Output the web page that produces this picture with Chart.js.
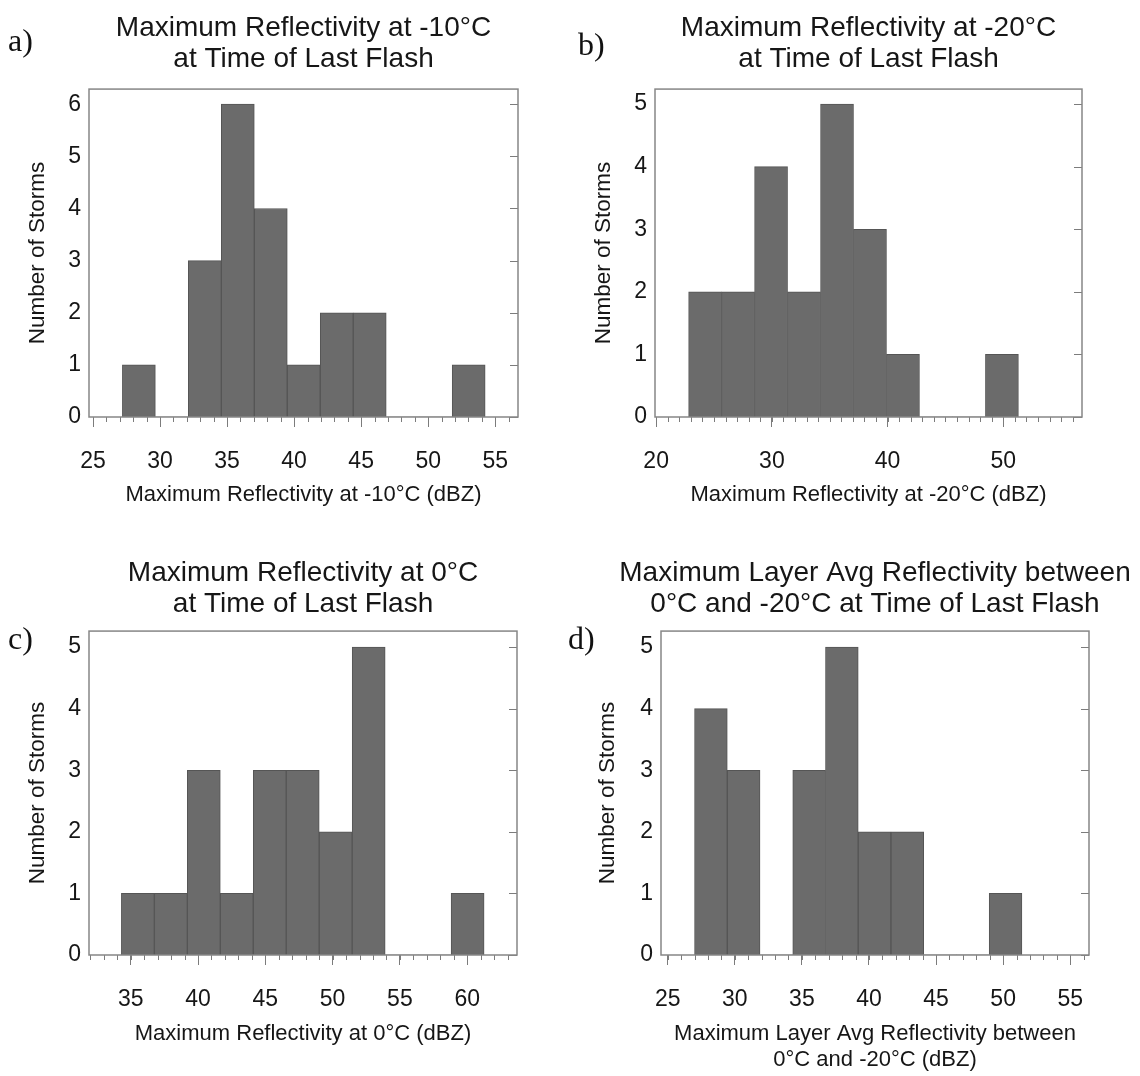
<!DOCTYPE html>
<html>
<head>
<meta charset="utf-8">
<script src="https://cdn.jsdelivr.net/npm/chart.js@4.4.1/dist/chart.umd.min.js"></script>
<style>
    body { margin: 0; background: #fff; width: 1140px; height: 1076px; position: relative; overflow: hidden; }
    .panel { position: absolute; height: 538px; }
    .tag { position: absolute; font-family: 'Liberation Serif', 'Times New Roman', serif; font-size: 32px; line-height: 32px; color: #111; }
</style>
</head>
<body>
<!-- canvases are sized so that their centre falls on the plot box centre (titles are centred on the canvas) -->
<div class="panel" style="left:0;top:0"><canvas id="chartA" width="607" height="538"></canvas></div>
<div class="panel" style="left:570px;top:0"><canvas id="chartB" width="597" height="538"></canvas></div>
<div class="panel" style="left:0;top:538px"><canvas id="chartC" width="606" height="538"></canvas></div>
<div class="panel" style="left:570px;top:538px"><canvas id="chartD" width="610" height="538"></canvas></div>
<div class="tag" style="left:8px;top:24px">a)</div>
<div class="tag" style="left:578px;top:28px">b)</div>
<div class="tag" style="left:8px;top:622px">c)</div>
<div class="tag" style="left:568px;top:622px">d)</div>
<script>
    // a) max reflectivity at -10°C : bin centres (dBZ) and storm counts
    const binsA = [28.42, 30.88, 33.34, 35.80, 38.26, 40.72, 43.18, 45.64, 48.10, 50.56, 53.02];
    const countsA = [1, 0, 3, 6, 4, 1, 2, 2, 0, 0, 1];
    const xTicksA = [25, 30, 35, 40, 45, 50, 55];
    const yTicksA = [0, 1, 2, 3, 4, 5, 6];

    // b) max reflectivity at -20°C
    const binsB = [24.23, 27.08, 29.93, 32.78, 35.63, 38.48, 41.33, 44.18, 47.03, 49.88];
    const countsB = [2, 2, 4, 2, 5, 3, 1, 0, 0, 1];
    const xTicksB = [20, 30, 40, 50];
    const yTicksB = [0, 1, 2, 3, 4, 5];

    // c) max reflectivity at 0°C
    const binsC = [35.53, 37.98, 40.43, 42.88, 45.33, 47.78, 50.23, 52.68, 55.13, 57.58, 60.03];
    const countsC = [1, 1, 3, 1, 3, 3, 2, 5, 0, 0, 1];
    const xTicksC = [35, 40, 45, 50, 55, 60];
    const yTicksC = [0, 1, 2, 3, 4, 5];

    // d) max layer avg reflectivity between 0°C and -20°C
    const binsD = [28.22, 30.66, 33.10, 35.54, 37.98, 40.42, 42.86, 45.30, 47.74, 50.18];
    const countsD = [4, 3, 0, 3, 5, 2, 2, 0, 0, 1];
    const xTicksD = [25, 30, 35, 40, 45, 50, 55];
    const yTicksD = [0, 1, 2, 3, 4, 5];

    const FONT = "'Liberation Sans', Arial, Helvetica, sans-serif";
    const TEXT = '#161616';

    // box around the plot, minor ticks under the x axis, y ticks inside the right edge
    const framePlugin = {
        id: 'frame',
        afterDraw(chart) {
            const { ctx, chartArea: a, scales: { x, y } } = chart;
            ctx.save();
            ctx.strokeStyle = '#7c7c7c';
            ctx.lineWidth = 1;
            ctx.beginPath();
            for (let v = Math.ceil(x.min); v <= x.max; v++) {
                const px = Math.round(x.getPixelForValue(v)) + 0.5;
                ctx.moveTo(px, a.bottom);
                ctx.lineTo(px, a.bottom + 5);
            }
            y.ticks.forEach(t => {
                const py = Math.round(y.getPixelForValue(t.value)) + 0.5;
                ctx.moveTo(a.right - 8, py);
                ctx.lineTo(a.right, py);
            });
            ctx.stroke();
            ctx.strokeStyle = '#868686';
            ctx.lineWidth = 1.5;
            ctx.strokeRect(a.left, a.top, a.right - a.left, a.bottom - a.top);
            ctx.restore();
        }
    };

    function histogram(id, bins, counts, xTicks, yTicks, p) {
        return new Chart(document.getElementById(id), {
            type: 'bar',
            data: {
                datasets: [{
                    data: bins.map((b, i) => ({ x: b, y: counts[i] })),
                    backgroundColor: '#6b6b6b',
                    borderColor: '#555555',
                    borderWidth: ctx => (ctx.raw && ctx.raw.y ? 1 : 0),
                    barPercentage: 1,
                    categoryPercentage: 1
                }]
            },
            options: {
                responsive: false,
                animation: false,
                layout: { padding: 0 },
                plugins: {
                    legend: { display: false },
                    tooltip: { enabled: false },
                    title: {
                        display: true,
                        text: p.title,
                        color: TEXT,
                        font: { family: FONT, size: 28, weight: 'normal', lineHeight: 1.13 },
                        padding: { top: p.titleTop, bottom: p.titleBottom }
                    }
                },
                scales: {
                    x: {
                        type: 'linear',
                        min: p.xMin,
                        max: p.xMax,
                        offset: false,
                        grid: { offset: false, drawOnChartArea: false, drawTicks: true, tickLength: 10, color: '#7c7c7c' },
                        border: { display: false },
                        ticks: { color: TEXT, font: { family: FONT, size: 23 }, padding: 21, maxRotation: 0 },
                        title: {
                            display: true,
                            text: p.xTitle,
                            color: TEXT,
                            font: { family: FONT, size: 22, lineHeight: 1.14 },
                            padding: { top: 0, bottom: p.xTitleBottom }
                        },
                        afterBuildTicks: s => { s.ticks = xTicks.map(v => ({ value: v })); },
                        afterFit: s => { s.height = p.xHeight; }
                    },
                    y: {
                        min: 0,
                        max: p.yMax,
                        grid: { display: false, drawTicks: false },
                        border: { display: false },
                        ticks: { color: TEXT, font: { family: FONT, size: 23 }, padding: 8 },
                        title: {
                            display: true,
                            text: 'Number of Storms',
                            color: TEXT,
                            font: { family: FONT, size: 22.5 },
                            padding: { top: p.yTitleTop, bottom: 0 }
                        },
                        afterBuildTicks: s => { s.ticks = yTicks.map(v => ({ value: v })); },
                        afterFit: s => { s.width = p.yWidth; }
                    },
                    // empty right-hand axis: keeps the right margin without shrinking the title box
                    pad: {
                        type: 'linear',
                        position: 'right',
                        grid: { display: false, drawTicks: false },
                        border: { display: false },
                        ticks: { display: false },
                        afterFit: s => { s.width = p.right; }
                    }
                }
            },
            plugins: [framePlugin]
        });
    }

    histogram('chartA', binsA, countsA, xTicksA, yTicksA, {
        title: ['Maximum Reflectivity at -10°C', 'at Time of Last Flash'],
        xTitle: 'Maximum Reflectivity at -10°C (dBZ)',
        xMin: 24.7, xMax: 56.7, yMax: 6.29,
        yWidth: 89, right: 89, titleTop: 12, titleBottom: 13.8, xHeight: 121, xTitleBottom: 31, yTitleTop: 24
    });

    histogram('chartB', binsB, countsB, xTicksB, yTicksB, {
        title: ['Maximum Reflectivity at -20°C', 'at Time of Last Flash'],
        xTitle: 'Maximum Reflectivity at -20°C (dBZ)',
        xMin: 19.9, xMax: 56.8, yMax: 5.24,
        yWidth: 85, right: 85, titleTop: 12, titleBottom: 13.8, xHeight: 121, xTitleBottom: 31, yTitleTop: 20
    });

    histogram('chartC', binsC, countsC, xTicksC, yTicksC, {
        title: ['Maximum Reflectivity at 0°C', 'at Time of Last Flash'],
        xTitle: 'Maximum Reflectivity at 0°C (dBZ)',
        xMin: 31.9, xMax: 63.7, yMax: 5.26,
        yWidth: 89, right: 89, titleTop: 19, titleBottom: 10.8, xHeight: 121, xTitleBottom: 30, yTitleTop: 24
    });

    histogram('chartD', binsD, countsD, xTicksD, yTicksD, {
        title: ['Maximum Layer Avg Reflectivity between', '0°C and -20°C at Time of Last Flash'],
        xTitle: ['Maximum Layer Avg Reflectivity between', '0°C and -20°C (dBZ)'],
        xMin: 24.5, xMax: 56.4, yMax: 5.26,
        yWidth: 91, right: 91, titleTop: 19, titleBottom: 10.8, xHeight: 121, xTitleBottom: 4, yTitleTop: 24
    });
</script>
</body>
</html>
